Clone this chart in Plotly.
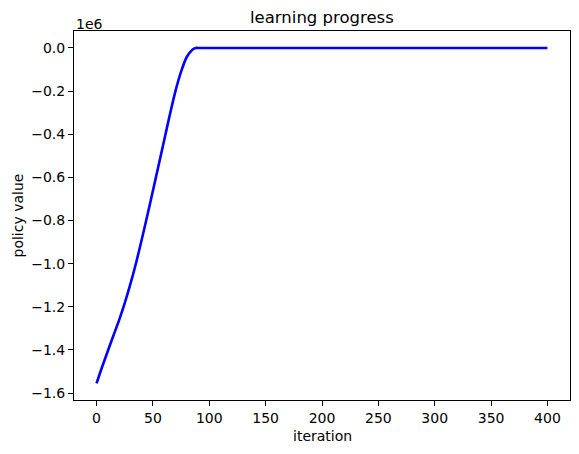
import plotly.graph_objects as go

# data
iterations = [0, 5, 10, 15, 20, 25, 30, 35, 40, 45, 50, 55, 60, 65, 70, 75, 80, 85, 88, 90, 400]
policy_value = [-1.555e6, -1.478e6, -1.405e6, -1.333e6, -1.262e6, -1.183e6, -1.095e6, -0.998e6,
                -0.890e6, -0.778e6, -0.662e6, -0.545e6, -0.428e6, -0.310e6, -0.200e6, -0.110e6,
                -0.042e6, -0.008e6, 0.0, 0.0, 0.0]

x_ticks = [0, 50, 100, 150, 200, 250, 300, 350, 400]
y_tick_vals = [-1.6e6, -1.4e6, -1.2e6, -1.0e6, -0.8e6, -0.6e6, -0.4e6, -0.2e6, 0.0]
y_tick_text = ["\u22121.6", "\u22121.4", "\u22121.2", "\u22121.0", "\u22120.8", "\u22120.6", "\u22120.4", "\u22120.2", "0.0"]

FONT = "DejaVu Sans"

fig = go.Figure()
fig.add_trace(go.Scatter(x=iterations, y=policy_value, mode="lines",
                         line=dict(color="#0000ff", width=2.6, shape="spline", smoothing=0.8),
                         showlegend=False, hoverinfo="skip"))

axis_common = dict(showline=True, linecolor="black", linewidth=1, mirror=True,
                   ticks="outside", ticklen=5, tickwidth=1, tickcolor="black",
                   showgrid=False, zeroline=False,
                   tickfont=dict(family=FONT, size=14, color="black"))

fig.update_layout(
    width=579, height=454,
    margin=dict(l=66, r=17, t=23, b=62),
    paper_bgcolor="white", plot_bgcolor="white",
    xaxis=dict(range=[-20, 420], tickvals=x_ticks, **axis_common),
    yaxis=dict(range=[-1.632e6, 0.0785e6], tickvals=y_tick_vals, ticktext=y_tick_text, **axis_common),
    annotations=[
        dict(text="learning progress", xref="paper", yref="paper", x=0.5, y=1,
             xanchor="center", yanchor="bottom", yshift=2, showarrow=False,
             font=dict(family=FONT, size=16.5, color="black")),
        dict(text="1e6", xref="paper", yref="paper", x=0, y=1,
             xanchor="left", yanchor="bottom", yshift=-3, showarrow=False,
             font=dict(family=FONT, size=14, color="black")),
        dict(text="iteration", xref="paper", yref="paper", x=0.5, y=0,
             xanchor="center", yanchor="middle", yshift=-36, showarrow=False,
             font=dict(family=FONT, size=14, color="black")),
        dict(text="policy value", xref="paper", yref="paper", x=0, y=0.5,
             xanchor="center", yanchor="middle", xshift=-57, textangle=-90, showarrow=False,
             font=dict(family=FONT, size=14, color="black")),
    ],
)

fig.write_html("out.html")
